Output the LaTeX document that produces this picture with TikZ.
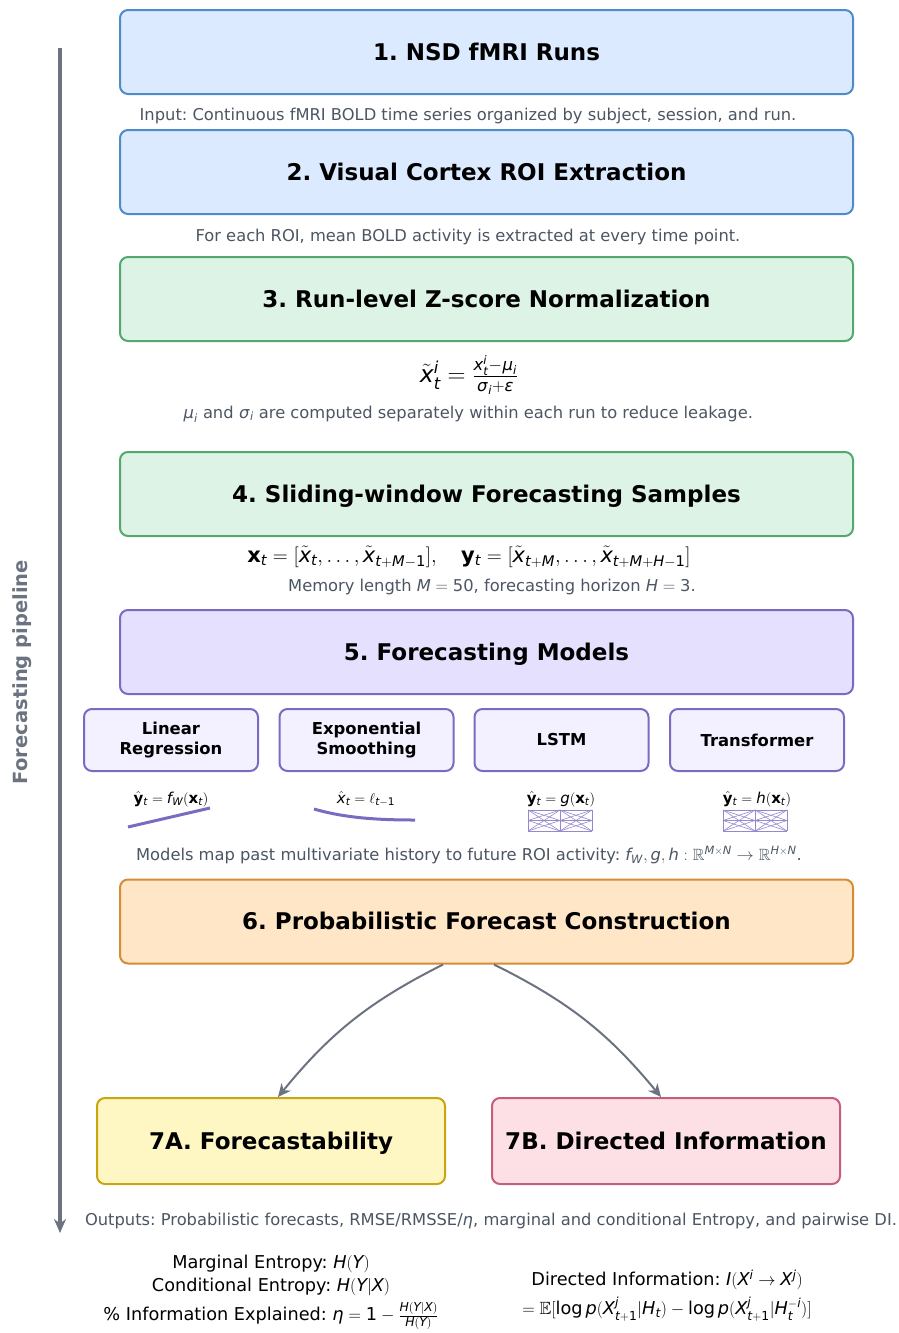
\documentclass[tikz,border=0pt]{standalone}
\usepackage{amsmath,amssymb}
\usepackage{mathspec}
\setmainfont{DejaVu Sans}
\setmathsfont(Digits,Latin,Greek){DejaVu Sans}
\setmathrm{DejaVu Sans}
\usetikzlibrary{arrows.meta}

\definecolor{blueFill}{HTML}{DBEAFE}
\definecolor{blueLine}{HTML}{4F8BCB}
\definecolor{greenFill}{HTML}{DCF3E6}
\definecolor{greenLine}{HTML}{52A86D}
\definecolor{purpleFill}{HTML}{E6E0FF}
\definecolor{purpleLine}{HTML}{7C6AC2}
\definecolor{modelFill}{HTML}{F3F0FF}
\definecolor{orangeFill}{HTML}{FFE6C7}
\definecolor{orangeLine}{HTML}{D48C35}
\definecolor{yellowFill}{HTML}{FEF7C3}
\definecolor{yellowLine}{HTML}{C9A50F}
\definecolor{pinkFill}{HTML}{FDE0E6}
\definecolor{pinkLine}{HTML}{C65D7D}
\definecolor{noteGray}{HTML}{4B5563}
\definecolor{flowGray}{HTML}{6B7280}

\newcommand\stagefont{\fontsize{23}{27}\bfseries\selectfont}
\newcommand\modelfont{\fontsize{16.4}{20}\bfseries\selectfont}
\newcommand\notefont{\fontsize{16.3}{19}\selectfont}
\frenchspacing

\tikzset{
  stage/.style={draw, rounded corners=8pt, line width=2pt, inner sep=0pt,
    minimum width=733pt, minimum height=84pt, text height=17pt, text depth=1pt,
    font=\stagefont},
  outbox/.style={stage, minimum width=348pt, minimum height=86pt},
  model/.style={draw=purpleLine, fill=modelFill, rounded corners=8pt, line width=2pt,
    inner sep=0pt, minimum width=174pt, minimum height=62pt, align=center, font=\modelfont},
  note/.style={text=noteGray, inner sep=0pt, yshift=-2pt, font=\notefont},
  eq/.style={inner sep=0pt, font=\fontsize{15}{18}\selectfont},
  outtext/.style={inner sep=0pt, yshift=-3pt, font=\fontsize{17.7}{21}\selectfont},
  flow/.style={draw=flowGray, line width=2pt, -{Stealth[length=13pt,width=12pt]}},
  icon/.style={draw=purpleLine, line width=3pt},
  net/.style={draw=purpleLine!80, line width=0.6pt}
}

\begin{document}
\begin{tikzpicture}[x=1pt,y=-1pt]
\useasboundingbox (0,0) rectangle (898,1333);

% pipeline arrow on the left
\coordinate (pipeTop) at (60,48);
\coordinate (pipeEnd) at (60,1233);
\draw[draw=flowGray, line width=4pt, -{Stealth[length=14pt,width=12pt]}] (pipeTop) -- (pipeEnd);
\node[rotate=90, text=flowGray, inner sep=0pt, font=\fontsize{19.5}{22}\bfseries\selectfont]
  (pipeLabel) at (22,672) {Forecasting pipeline};

% stages
\node[stage, draw=blueLine, fill=blueFill] (runs) at (486.5,52) {1. NSD fMRI Runs};
\node[note] (runsNote) at (468,114) {Input: Continuous fMRI BOLD time series organized by subject, session, and run.};

\node[stage, draw=blueLine, fill=blueFill] (roi) at (486.5,172) {2. Visual Cortex ROI Extraction};
\node[note] (roiNote) at (468,235) {For each ROI, mean BOLD activity is extracted at every time point.};

\node[stage, draw=greenLine, fill=greenFill] (zscore) at (486.5,299) {3. Run-level Z-score Normalization};
\node[inner sep=0pt, font=\fontsize{23.5}{27}\selectfont] (zEq) at (469,375)
  {$\tilde{x}_t^i = \frac{x_t^i-\mu_i}{\sigma_i+\epsilon}$};
\node[note] (zNote) at (468,412) {$\mu_i$ and $\sigma_i$ are computed separately within each run to reduce leakage.};

\node[stage, draw=greenLine, fill=greenFill] (window) at (486.5,494) {4. Sliding-window Forecasting Samples};
\node[inner sep=0pt, font=\fontsize{21}{25}\selectfont] (winEq) at (469,557)
  {$\mathbf{x}_t = [\tilde{x}_t, \ldots, \tilde{x}_{t+M-1}], \quad \mathbf{y}_t = [\tilde{x}_{t+M}, \ldots, \tilde{x}_{t+M+H-1}]$};
\node[note] (winNote) at (492,585) {Memory length $M=50$, forecasting horizon $H=3$.};

\node[stage, draw=purpleLine, fill=purpleFill] (models) at (486.5,652) {5. Forecasting Models};

% model family
\node[model] (linreg) at (171,740) {Linear\\Regression};
\node[model] (expsm) at (366.5,740) {Exponential\\Smoothing};
\node[model] (lstm) at (561.5,740) {LSTM};
\node[model] (trans) at (757,740) {Transformer};

\node[eq] (linEq) at (171,799) {$\hat{\mathbf{y}}_t = f_W(\mathbf{x}_t)$};
\node[eq] (expEq) at (366,799) {$\hat{x}_t = \ell_{t-1}$};
\node[eq] (lstmEq) at (561,799) {$\hat{\mathbf{y}}_t = g(\mathbf{x}_t)$};
\node[eq] (transEq) at (757,799) {$\hat{\mathbf{y}}_t = h(\mathbf{x}_t)$};

\draw[icon] (128,827) -- (210,808);
\draw[icon] (314,809) .. controls (345,818) and (378,820) .. (415,820);
\foreach \cx in {560,755}{% small network sketch
  \foreach \a in {810,820.5,831}{
    \foreach \b in {810,820.5,831}{
      \draw[net] (\cx-32,\a) -- (\cx,\b);
      \draw[net] (\cx,\a) -- (\cx+32,\b);}}
  \foreach \lx in {-32,0,32}{
    \draw[net] (\cx+\lx,810) -- (\cx+\lx,831);}}

\node[note] (modelsNote) at (469,853)
  {Models map past multivariate history to future ROI activity: $f_W, g, h : \mathbb{R}^{M\times N} \to \mathbb{R}^{H\times N}$.};

\node[stage, draw=orangeLine, fill=orangeFill] (prob) at (486.5,921.5) {6. Probabilistic Forecast Construction};

% outputs
\node[outbox, draw=yellowLine, fill=yellowFill] (fcast) at (271,1141) {7A. Forecastability};
\node[outbox, draw=pinkLine, fill=pinkFill] (dirinfo) at (666,1141) {7B. Directed Information};

\draw[flow] (prob.south -| 443,0) to[bend right=12] (fcast.north -| 278,0);
\draw[flow] (prob.south -| 494,0) to[bend left=12] (dirinfo.north -| 661,0);

\node[note] (outNote) at (491,1219) {Outputs: Probabilistic forecasts, RMSE/RMSSE/$\eta$, marginal and conditional Entropy, and pairwise DI.};

\node[outtext] (margH) at (271,1261) {Marginal Entropy: $H(Y)$};
\node[outtext] (condH) at (271,1284) {Conditional Entropy: $H(Y|X)$};
\node[outtext] (etaEq) at (271,1313) {\% Information Explained: $\eta = 1 - \frac{H(Y|X)}{H(Y)}$};
\node[outtext] (diDef) at (667,1277) {Directed Information: $I(X^i \to X^j)$};
\node[outtext] (diEq) at (667,1306)
  {$= \mathbb{E}[\log p(X^j_{t+1} | H_t) - \log p(X^j_{t+1} | H_t^{-i})]$};

\end{tikzpicture}
\end{document}
